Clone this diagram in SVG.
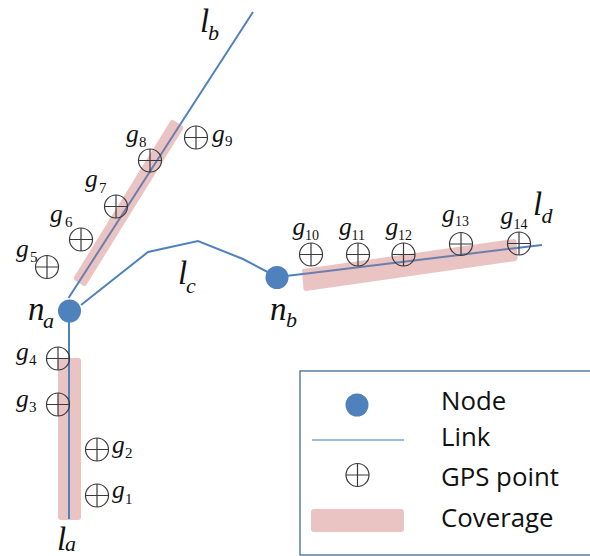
<svg xmlns="http://www.w3.org/2000/svg" width="590" height="556" viewBox="0 0 590 556">
<style>
.cov{fill:#e6b9b8;fill-opacity:.85}
.link{fill:none;stroke:#4f81bd;stroke-width:2}
.under{fill:none;stroke:#6b7fae;stroke-width:2}
.node{fill:#4f81bd}
.gc{fill:none;stroke:#3a3a3a;stroke-width:1.2}
.g{font-family:"Liberation Serif",serif;font-style:italic;font-size:25.500px;fill:#111}
.n{font-family:"Liberation Serif",serif;font-style:italic;font-size:33px;fill:#111}
.s{font-family:"Liberation Serif",serif;font-size:15px;fill:#111}
.ss{font-family:"Liberation Serif",serif;font-size:14px;fill:#111}
.si{font-family:"Liberation Serif",serif;font-style:italic;font-size:22px;fill:#111}
.leg{font-family:"Open Sans",sans-serif;font-size:25.800px;fill:#111}
</style>
<defs>
<g id="gps"><circle class="gc" r="11.500"/><path class="gc" d="M-11.500 0H11.500M0-11.500V11.500"/></g>
</defs>
<g id="coverage">
<path class="cov" d="M74 277L171 120Q172.500 119.500 174 120.500L182.500 126Q183.500 127.500 183 129L86 285.500Q84.500 286.500 83 285.500L74.500 280Q73.500 278.500 74 277Z"/>
<path class="cov" d="M303 269L514 239Q516 239 516.500 241L517.500 258Q517.500 260.500 515.500 261L306 291Q304 291 303.500 289L302 271Q302 269.500 303 269Z"/>
<rect class="cov" x="58" y="358" width="23" height="162" rx="3"/>
</g>
<g id="connectors">
<path class="link" d="M68.500 298L79.500 281M180.500 124L253 12"/>
<path class="under" d="M79.500 281L180.500 124"/>
<path class="link" d="M81 305L148 252L198 241L243 259L277 277"/>
<path class="link" d="M277 277L303 274M516.500 248L542 245"/>
<path class="under" d="M303 274L516.500 248"/>
<path class="link" d="M69 311V519"/>
</g>
<g id="node-a"><circle class="node" cx="69.500" cy="311" r="11.500"/><text class="n" x="28" y="320">n</text><text class="si" x="43" y="328">a</text></g>
<g id="node-b"><circle class="node" cx="277" cy="277.500" r="11.500"/><text class="n" x="270" y="320">n</text><text class="si" x="286" y="327">b</text></g>
<g id="label-la"><text class="n" x="57" y="550">l</text><text class="si" x="65" y="551">a</text></g>
<g id="label-lb"><text class="n" x="200" y="32">l</text><text class="si" x="208" y="40">b</text></g>
<g id="label-lc"><text class="n" x="178" y="284">l</text><text class="si" x="186" y="293">c</text></g>
<g id="label-ld"><text class="n" x="533" y="215">l</text><text class="si" x="541.500" y="223">d</text></g>
<g id="g1"><use href="#gps" x="97" y="495.500"/><text class="g" x="112" y="498">g</text><text class="s" x="125" y="503.500">1</text></g>
<g id="g2"><use href="#gps" x="97" y="449.500"/><text class="g" x="112" y="453">g</text><text class="s" x="125" y="457.500">2</text></g>
<g id="g3"><use href="#gps" x="58" y="404.500"/><text class="g" x="16" y="406.500">g</text><text class="s" x="29" y="411.500">3</text></g>
<g id="g4"><use href="#gps" x="58" y="358.500"/><text class="g" x="16" y="360">g</text><text class="s" x="29" y="365">4</text></g>
<g id="g5"><use href="#gps" x="47" y="267"/><text class="g" x="16" y="256.500">g</text><text class="s" x="30" y="262">5</text></g>
<g id="g6"><use href="#gps" x="81" y="239.500"/><text class="g" x="50" y="221.500">g</text><text class="s" x="65" y="227">6</text></g>
<g id="g7"><use href="#gps" x="116" y="206.500"/><text class="g" x="85" y="186.500">g</text><text class="s" x="99" y="192.500">7</text></g>
<g id="g8"><use href="#gps" x="150" y="160.500"/><text class="g" x="126" y="141.500">g</text><text class="s" x="139" y="146.500">8</text></g>
<g id="g9"><use href="#gps" x="196" y="137.500"/><text class="g" x="212" y="141.500">g</text><text class="s" x="225" y="146">9</text></g>
<g id="g10"><use href="#gps" x="311" y="254.500"/><text class="g" x="292.500" y="235">g</text><text class="ss" x="305" y="239.500">10</text></g>
<g id="g11"><use href="#gps" x="358" y="254.500"/><text class="g" x="339" y="235">g</text><text class="ss" x="351.500" y="239.500">11</text></g>
<g id="g12"><use href="#gps" x="403.500" y="254.500"/><text class="g" x="385.500" y="235">g</text><text class="ss" x="398" y="239.500">12</text></g>
<g id="g13"><use href="#gps" x="461" y="244"/><text class="g" x="442" y="221.500">g</text><text class="ss" x="455" y="226">13</text></g>
<g id="g14"><use href="#gps" x="519" y="243.500"/><text class="g" x="500.500" y="223.500">g</text><text class="ss" x="513.500" y="229">14</text></g>
<g id="legend">
<path d="M590 371H300V555H590" fill="none" stroke="#5b7ea8" stroke-width="1.500"/>
<circle class="node" cx="357" cy="405" r="11.500"/>
<path d="M312 440H404" stroke="#7fa3d0" stroke-width="1.500" fill="none"/>
<use href="#gps" x="357.500" y="475"/>
<rect x="311" y="509" width="93" height="23" rx="3" fill="#e6b9b8" fill-opacity=".85"/>
<text class="leg" x="441" y="410">Node</text>
<text class="leg" x="441" y="446">Link</text>
<text class="leg" x="441" y="486">GPS point</text>
<text class="leg" x="441" y="527">Coverage</text>
</g>
</svg>
